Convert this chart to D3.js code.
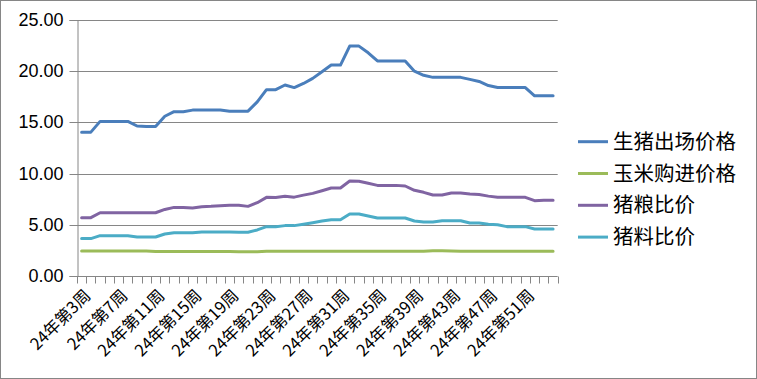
<!DOCTYPE html>
<html><head><meta charset="utf-8">
<script src="https://cdn.jsdelivr.net/npm/d3@7/dist/d3.min.js"></script>
<style>body{margin:0;background:#fff}svg{display:block}</style>
</head><body><div id="c"></div>
<script>
const categories = Array.from({length: 52}, (_, i) => `24年第${i + 3}周`);
const labelEvery = 4;
const seriesNames = ["生猪出场价格", "玉米购进价格", "猪粮比价", "猪料比价"];
const hogPrice = [14.05,14.05,15.1,15.1,15.1,15.1,14.65,14.6,14.6,15.6,16.05,16.05,16.2,16.2,16.2,16.2,16.1,16.1,16.1,17.0,18.2,18.2,18.65,18.4,18.8,19.3,19.95,20.6,20.6,22.45,22.45,21.8,21.0,21.0,21.0,21.0,20.0,19.6,19.4,19.4,19.4,19.4,19.2,19.0,18.6,18.4,18.4,18.4,18.4,17.6,17.6,17.6];
const cornPrice = [2.45,2.45,2.45,2.44,2.44,2.44,2.44,2.44,2.4,2.4,2.4,2.4,2.4,2.4,2.4,2.4,2.39,2.38,2.38,2.38,2.41,2.41,2.42,2.42,2.42,2.42,2.42,2.42,2.42,2.42,2.42,2.42,2.41,2.41,2.41,2.41,2.42,2.42,2.46,2.46,2.45,2.42,2.42,2.41,2.41,2.42,2.42,2.42,2.42,2.41,2.41,2.41];
const hogGrainRatio = [5.7,5.7,6.18,6.18,6.18,6.18,6.18,6.18,6.18,6.5,6.7,6.7,6.65,6.77,6.8,6.87,6.9,6.9,6.8,7.16,7.68,7.66,7.78,7.7,7.9,8.07,8.33,8.59,8.6,9.28,9.25,9.05,8.85,8.85,8.85,8.79,8.37,8.17,7.91,7.91,8.1,8.1,8.0,7.95,7.8,7.68,7.68,7.68,7.68,7.36,7.4,7.4];
const hogFeedRatio = [3.65,3.65,3.94,3.94,3.94,3.94,3.81,3.81,3.81,4.1,4.23,4.23,4.23,4.3,4.3,4.3,4.3,4.28,4.28,4.5,4.82,4.82,4.92,4.92,5.05,5.2,5.37,5.5,5.5,6.05,6.05,5.86,5.66,5.66,5.66,5.66,5.37,5.27,5.27,5.4,5.4,5.4,5.17,5.17,5.05,5.0,4.82,4.82,4.82,4.59,4.59,4.59];
const yTicks = [0, 5, 10, 15, 20, 25];
const colors = ["#4A7EBB", "#9BBB59", "#8064A2", "#4BACC6"];

const W = 757, H = 379;
const m = {left: 77, right: 199.3, top: 20, bottom: 103};
const svg = d3.select("#c").append("svg").attr("width", W).attr("height", H);
svg.append("rect").attr("x", 0.5).attr("y", 0.5).attr("width", W - 1).attr("height", H - 1)
  .attr("fill", "#fff").attr("stroke", "#868686");

const x = d3.scaleBand().domain(categories).range([m.left, W - m.right]);
const y = d3.scaleLinear().domain([0, 25]).range([H - m.bottom, m.top]);
const grey = "#868686";

// gridlines
svg.append("g").selectAll("line").data(yTicks.filter(d => d > 0)).join("line")
  .attr("x1", m.left).attr("x2", W - m.right)
  .attr("y1", d => Math.round(y(d)) + 0.5).attr("y2", d => Math.round(y(d)) + 0.5)
  .attr("stroke", grey).attr("stroke-width", 1);

// y axis
const yAxis = svg.append("g").attr("transform", `translate(${Math.round(m.left) + 0.5},0)`)
  .call(d3.axisLeft(y).tickValues(yTicks).tickFormat(d3.format(".2f")).tickSize(8).tickPadding(6));
yAxis.select(".domain").attr("stroke", grey);
yAxis.selectAll(".tick line").attr("stroke", grey);
yAxis.selectAll("text").attr("font-family", "'Liberation Sans', Arial, sans-serif").attr("font-size", 18).attr("fill", "#000");
yAxis.selectAll(".tick").attr("transform", d => `translate(0,${Math.round(y(d)) + 0.5})`);

// x axis line and ticks at category boundaries
const xb = Math.round(y(0)) + 0.5;
svg.append("line").attr("x1", m.left).attr("x2", W - m.right).attr("y1", xb).attr("y2", xb).attr("stroke", grey);
const bounds = categories.map(c => x(c)).concat([x(categories[categories.length - 1]) + x.bandwidth()]);
svg.append("g").selectAll("line").data(bounds).join("line")
  .attr("x1", d => Math.round(d) + 0.5).attr("x2", d => Math.round(d) + 0.5)
  .attr("y1", xb).attr("y2", xb + 7).attr("stroke", grey);

// x labels
svg.append("g").selectAll("text").data(categories.filter((c, i) => i % labelEvery === 0)).join("text")
  .attr("transform", d => `translate(${x(d) + x.bandwidth() / 2 + 6},${xb + 16}) rotate(-45)`)
  .attr("text-anchor", "end").attr("dy", "0.35em")
  .attr("font-family", "'Noto Sans CJK SC', sans-serif").attr("font-size", 16.5).attr("fill", "#000")
  .text(d => d);

// lines
const allSeries = [hogPrice, cornPrice, hogGrainRatio, hogFeedRatio];
const line = d3.line().x((d, i) => x(categories[i]) + x.bandwidth() / 2).y(d => y(d));
svg.append("g").selectAll("path").data(allSeries).join("path")
  .attr("d", d => line(d)).attr("fill", "none")
  .attr("stroke", (d, i) => colors[i]).attr("stroke-width", 3)
  .attr("stroke-linejoin", "round").attr("stroke-linecap", "round");

// legend
const lg = svg.append("g").selectAll("g").data(seriesNames).join("g")
  .attr("transform", (d, i) => `translate(578,${141.7 + i * 31.8})`);
lg.append("line").attr("x1", 0).attr("x2", 30).attr("y1", 0).attr("y2", 0)
  .attr("stroke", (d, i) => colors[i]).attr("stroke-width", 3);
lg.append("text").attr("x", 35).attr("dy", "0.35em")
  .attr("font-family", "'Noto Sans CJK SC', sans-serif").attr("font-size", 20.5).attr("fill", "#000")
  .text(d => d);
</script></body></html>
